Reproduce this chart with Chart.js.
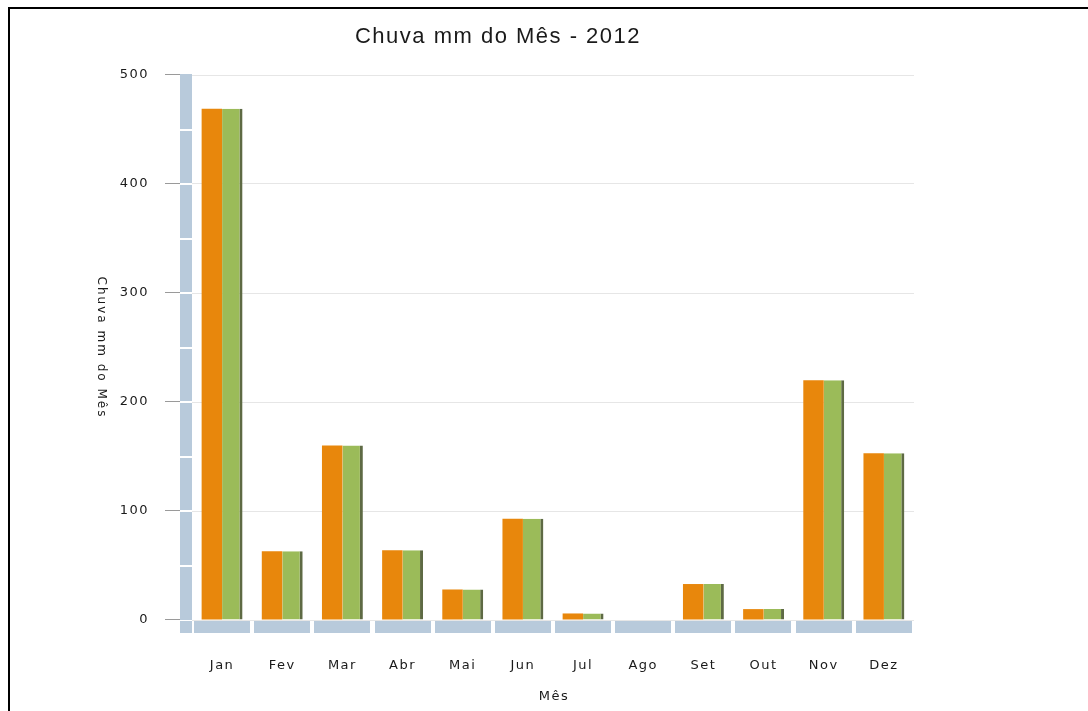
<!DOCTYPE html>
<html>
<head>
<meta charset="utf-8">
<script src="https://cdn.jsdelivr.net/npm/chart.js@4"></script>
<style>
  html, body { margin: 0; padding: 0; background: #fff; }
  canvas { display: block; }
</style>
</head>
<body>
<canvas id="c" width="1088" height="711"></canvas>
<script>
const titleText = 'Chuva mm do Mês - 2012';
const yTitleText = 'Chuva mm do Mês';
const xTitleText = 'Mês';
const months = ['Jan', 'Fev', 'Mar', 'Abr', 'Mai', 'Jun', 'Jul', 'Ago', 'Set', 'Out', 'Nov', 'Dez'];
const seriesOrange = [469, 63, 160, 64, 28, 93, 6, 0, 33, 10, 220, 153];
const seriesGreen = [469, 63, 160, 64, 28, 93, 6, 0, 33, 10, 220, 153];
const yMin = 0, yMax = 500, yStep = 100, yMinorStep = 50;

const BAND = '#b8cadb';

const deco = {
  id: 'deco',
  beforeDraw(chart) {
    const ctx = chart.ctx;
    ctx.save();
    ctx.fillStyle = '#ffffff';
    ctx.fillRect(0, 0, chart.width, chart.height);
    ctx.fillStyle = '#000000';
    ctx.fillRect(8, 7, chart.width - 8, 2);
    ctx.fillRect(8, 7, 2, chart.height - 7);
    ctx.restore();
    ctx.letterSpacing = '1.5px';
  },
  afterDraw(chart) {
    const ctx = chart.ctx;
    const a = chart.chartArea;
    const xs = chart.scales.x, ys = chart.scales.y;
    ctx.save();
    // y band
    ctx.fillStyle = BAND;
    ctx.fillRect(a.left - 12, a.top - 1, 12, a.bottom + 14 - a.top);
    ctx.fillStyle = '#ffffff';
    for (let v = yMin + yMinorStep; v < yMax; v += yMinorStep) {
      const py = Math.round(ys.getPixelForValue(v));
      ctx.fillRect(a.left - 12, py - 1, 12, 2);
    }
    ctx.fillRect(a.left - 12, Math.round(ys.getPixelForValue(yMin)), 12, 1);
    // tick marks
    ctx.strokeStyle = '#9a9a9a';
    ctx.lineWidth = 1;
    ys.ticks.forEach(t => {
      const py = Math.round(ys.getPixelForValue(t.value)) - 0.5;
      ctx.beginPath();
      ctx.moveTo(a.left - 27, py);
      ctx.lineTo(a.left - 12, py);
      ctx.stroke();
    });
    // x band segments
    ctx.fillStyle = BAND;
    const half = (xs.getPixelForValue(1) - xs.getPixelForValue(0)) / 2;
    months.forEach((m, i) => {
      const cx = xs.getPixelForValue(i);
      ctx.fillRect(Math.round(cx - half + 2), a.bottom + 1, Math.round(2 * half - 4), 12);
    });
    // titles
    ctx.fillStyle = '#1a1a1a';
    ctx.textAlign = 'center';
    ctx.textBaseline = 'middle';
    ctx.letterSpacing = '1.5px';
    ctx.font = '22px "Liberation Sans", Arial, sans-serif';
    ctx.fillText(titleText, 498, 37);
    ctx.letterSpacing = '1.5px';
    ctx.font = '13px "DejaVu Sans", sans-serif';
    ctx.fillText(xTitleText, (a.left + a.right) / 2 + 1, 697);
    ctx.letterSpacing = '2px';
    ctx.font = '12px "DejaVu Sans", sans-serif';
    ctx.translate(101, (a.top + a.bottom) / 2);
    ctx.rotate(Math.PI / 2);
    ctx.fillText(yTitleText, 0, 0);
    ctx.restore();
  }
};

new Chart(document.getElementById('c'), {
  type: 'bar',
  data: {
    labels: months,
    datasets: [
      {
        data: seriesOrange,
        backgroundColor: '#e8870c',
        borderWidth: 0,
        categoryPercentage: 0.68,
        barPercentage: 1.0
      },
      {
        data: seriesGreen,
        backgroundColor: '#9bbb59',
        borderColor: '#5e6a44',
        borderWidth: { top: 0, right: 3, bottom: 0, left: 0 },
        borderSkipped: false,
        categoryPercentage: 0.68,
        barPercentage: 1.0
      }
    ]
  },
  options: {
    responsive: false,
    devicePixelRatio: 1,
    animation: false,
    layout: { padding: { left: 0, top: 75, right: 174, bottom: 0 } },
    plugins: { legend: { display: false }, tooltip: { enabled: false }, title: { display: false } },
    scales: {
      x: {
        grid: { display: false, drawTicks: false },
        border: { display: false },
        ticks: { color: '#1a1a1a', font: { family: 'DejaVu Sans', size: 13 }, padding: 38, maxRotation: 0 },
        afterFit(s) { s.height = 91; }
      },
      y: {
        min: yMin, max: yMax,
        grid: { color: '#e6e6e6', drawTicks: false },
        border: { display: false },
        ticks: { stepSize: yStep, color: '#1a1a1a', font: { family: 'DejaVu Sans', size: 13 }, padding: 43 },
        afterFit(s) { s.width = 192; }
      }
    }
  },
  plugins: [deco]
});
</script>
</body>
</html>
